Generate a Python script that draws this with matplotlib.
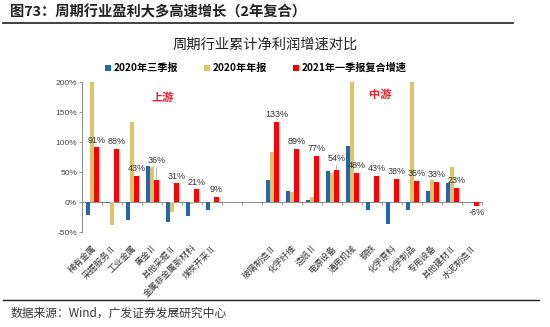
import numpy as np
import matplotlib.pyplot as plt

plt.rcParams['font.family'] = ['Noto Sans CJK SC', 'DejaVu Sans']

categories = ['稀有金属', '采掘服务Ⅱ', '工业金属', '黄金Ⅱ', '其他采掘Ⅱ', '金属非金属新材料', '煤炭开采Ⅱ',
              '', '',
              '玻璃制造Ⅱ', '化学纤维', '造纸Ⅱ', '电源设备', '通用机械', '钢铁', '化学原料',
              '化学制品', '专用设备', '其他建材Ⅱ', '水泥制造Ⅱ']
nan = np.nan
q3_2020 = [-22, -1, -30, 60, -34, -23, -14, nan, nan,
           36, 19, 4, 52, 94, -13, -37, -14, 19, 31, 0]
fy_2020 = [200, -38, 133, 58, -17, -3, -2, nan, nan,
           83, 17, 8, 48, 200, 0, 0, 200, 37, 58, 0]
q1_2021 = [91, 88, 43, 36, 31, 21, 9, nan, nan,
           133, 89, 77, 54, 48, 43, 38, 35, 33, 23, -6]

blue = '#1f68ae'
gold = '#e3c266'
red = '#ff0000'

fig = plt.figure(figsize=(5.5, 3.27), dpi=100)
ax = fig.add_axes([0.149, 0.2905, 0.727, 0.4585])

x = np.arange(len(categories))
w = 0.21
ax.bar(x - 0.21, q3_2020, w, color=blue, label='2020年三季报')
ax.bar(x, fy_2020, w, color=gold, label='2020年年报')
ax.bar(x + 0.23, q1_2021, w, color=red, label='2021年一季报复合增速')

# 数据标签（个别上移避免重叠）
nudge = {3: 9, 12: 3}
for i, v in enumerate(q1_2021):
    if np.isnan(v):
        continue
    if v >= 0:
        ax.annotate(f'{v:.0f}%', (x[i] + 0.23, v), xytext=(0, 2 + nudge.get(i, 0)),
                    textcoords='offset points', ha='center', va='bottom',
                    fontsize=6.5, color='#333333', family='Liberation Sans',
                    arrowprops=dict(arrowstyle='-', color='#999999', lw=0.5,
                                    shrinkA=0, shrinkB=0) if i in nudge else None)
    else:
        ax.annotate(f'{v:.0f}%', (x[i] + 0.23, v), xytext=(0, -2),
                    textcoords='offset points', ha='center', va='top',
                    fontsize=6.5, color='#333333', family='Liberation Sans')

ymin, ymax = -50, 200
ax.set_ylim(ymin, ymax)
ax.set_xlim(-0.5, len(categories) - 0.5)
ax.set_yticks([-50, 0, 50, 100, 150, 200])
ax.set_yticklabels([f'{v}%' for v in [-50, 0, 50, 100, 150, 200]],
                   fontsize=6, color='#444444', family='Liberation Sans')
ax.tick_params(axis='y', length=2, width=0.6, color='#888888', pad=1.5)

ax.set_xticks(x)
ax.set_xticklabels(categories, rotation=45, ha='right', va='top', rotation_mode='anchor',
                   fontsize=6.3, color='#333333')
ax.tick_params(axis='x', length=0, pad=8)

for s in ['top', 'right', 'bottom']:
    ax.spines[s].set_visible(False)
ax.spines['left'].set_color('#888888')
ax.spines['left'].set_linewidth(0.7)

# 零轴及分隔刻度
zero_ax = ax.secondary_xaxis((0 - ymin) / (ymax - ymin))
zero_ax.set_xticks(np.arange(len(categories) + 1) - 0.5)
zero_ax.set_xticklabels([])
zero_ax.tick_params(length=2.5, width=0.6, color='#888888', direction='out')
zero_ax.spines['bottom'].set_color('#888888')
zero_ax.spines['bottom'].set_linewidth(0.7)

ax.text(3.55, 175, '上游', color='#e8202a', fontsize=8, fontweight='bold', ha='center', va='center')
ax.text(14.4, 180, '中游', color='#e8202a', fontsize=8, fontweight='bold', ha='center', va='center')

handles, labels = ax.get_legend_handles_labels()
leg = fig.legend(handles, labels, loc='center', bbox_to_anchor=(0.465, 0.792), ncol=3,
                 frameon=False, handlelength=0.55, handleheight=0.55,
                 handletextpad=0.25, columnspacing=2.6, prop={'weight': 'bold', 'size': 7.3})

fig.text(0.482, 0.862, '周期行业累计净利润增速对比', ha='center', va='center', fontsize=10.3, color='#222222')
fig.text(0.018, 0.962, '图73：周期行业盈利大多高速增长（2年复合）', ha='left', va='center',
         fontsize=10.3, fontweight='bold', color='#222222')
fig.add_artist(plt.Line2D([0.006, 0.932], [0.93, 0.93], color='#333333', lw=1.3))
fig.add_artist(plt.Line2D([0.006, 0.98], [0.083, 0.083], color='#222222', lw=1.0))
fig.text(0.02, 0.042, '数据来源：Wind，广发证券发展研究中心', ha='left', va='center',
         fontsize=8.5, color='#333333')

fig.savefig('out.png', dpi=100)
